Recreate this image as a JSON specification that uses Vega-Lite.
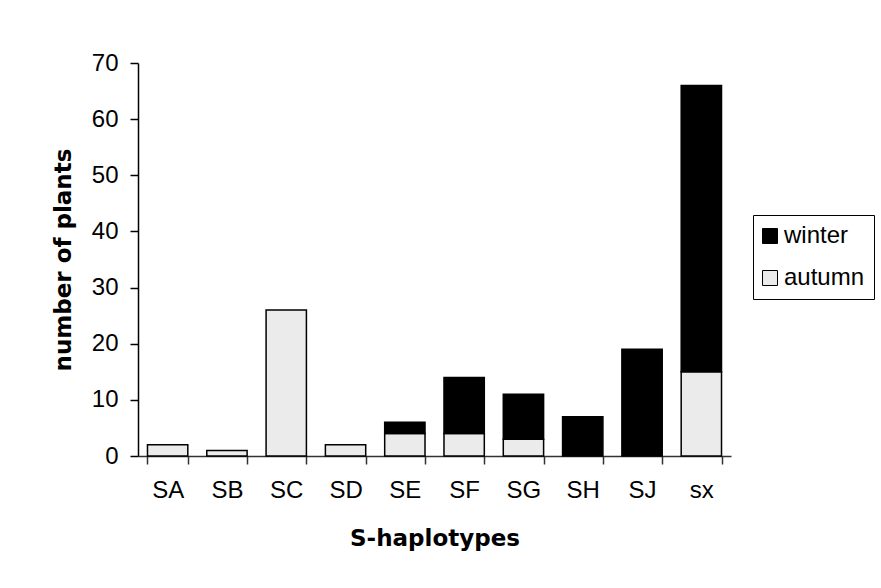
{
  "$schema": "https://vega.github.io/schema/vega-lite/v6.json",
  "autosize": "none",
  "width": 593,
  "height": 393,
  "padding": {"left": 138, "top": 63, "right": 150, "bottom": 132},
  "background": "white",
  "data": {
    "values": [
      {"haplotype": "SA", "season": "autumn", "plants": 2},
      {"haplotype": "SB", "season": "autumn", "plants": 1},
      {"haplotype": "SC", "season": "autumn", "plants": 26},
      {"haplotype": "SD", "season": "autumn", "plants": 2},
      {"haplotype": "SE", "season": "autumn", "plants": 4},
      {"haplotype": "SE", "season": "winter", "plants": 2},
      {"haplotype": "SF", "season": "autumn", "plants": 4},
      {"haplotype": "SF", "season": "winter", "plants": 10},
      {"haplotype": "SG", "season": "autumn", "plants": 3},
      {"haplotype": "SG", "season": "winter", "plants": 8},
      {"haplotype": "SH", "season": "winter", "plants": 7},
      {"haplotype": "SJ", "season": "winter", "plants": 19},
      {"haplotype": "sx", "season": "autumn", "plants": 15},
      {"haplotype": "sx", "season": "winter", "plants": 51}
    ]
  },
  "mark": {"type": "bar", "stroke": "black", "strokeWidth": 1.5},
  "encoding": {
    "x": {
      "field": "haplotype",
      "type": "nominal",
      "sort": ["SA", "SB", "SC", "SD", "SE", "SF", "SG", "SH", "SJ", "sx"],
      "scale": {"paddingInner": 0.32, "paddingOuter": 0.16},
      "axis": {
        "title": "S-haplotypes",
        "labelAngle": 0,
        "tickBand": "extent",
        "tickSize": 8,
        "labelPadding": 14,
        "titlePadding": 25,
        "domainColor": "#333",
        "tickColor": "#333",
        "domainWidth": 1.5,
        "tickWidth": 1.5
      }
    },
    "y": {
      "field": "plants",
      "type": "quantitative",
      "stack": "zero",
      "scale": {"domain": [0, 70], "nice": false},
      "axis": {
        "title": "number of plants",
        "values": [0, 10, 20, 30, 40, 50, 60, 70],
        "tickSize": 8,
        "labelPadding": 12,
        "titlePadding": 16,
        "grid": false,
        "domainColor": "black",
        "tickColor": "black",
        "domainWidth": 1.5,
        "tickWidth": 1.5
      }
    },
    "color": {
      "field": "season",
      "type": "nominal",
      "scale": {"domain": ["winter", "autumn"], "range": ["black", "#ebebeb"]},
      "legend": {
        "title": null,
        "orient": "none",
        "legendX": 615,
        "legendY": 152,
        "symbolType": "square",
        "symbolSize": 225,
        "symbolStrokeColor": "black",
        "symbolStrokeWidth": 1,
        "symbolOffset": -4,
        "labelFontSize": 24,
        "labelOffset": 2,
        "rowPadding": 18,
        "padding": 9,
        "strokeColor": "black",
        "fillColor": "white"
      }
    },
    "order": {"field": "season", "sort": "ascending"}
  },
  "config": {
    "view": {"stroke": null},
    "font": "Liberation Sans",
    "axis": {
      "labelFont": "Liberation Sans",
      "labelFontSize": 24,
      "labelColor": "black",
      "titleFont": "DejaVu Sans",
      "titleFontSize": 23,
      "titleFontWeight": "bold",
      "titleColor": "black"
    },
    "legend": {"labelFont": "Liberation Sans", "labelColor": "black"}
  }
}
